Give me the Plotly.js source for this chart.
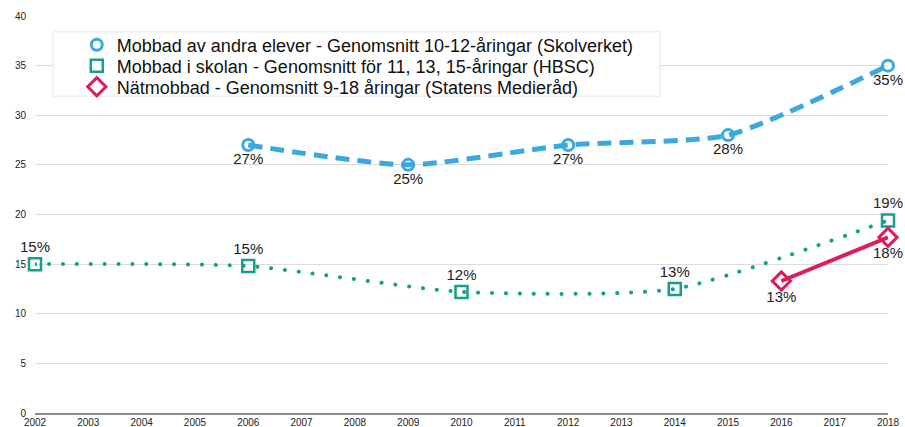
<!DOCTYPE html>
<html><head><meta charset="utf-8">
<script src="https://cdn.plot.ly/plotly-3.0.1.min.js"></script>
<style>
html,body{margin:0;padding:0;background:#fff}
#chart .scatterlayer .trace:nth-child(2) .js-line{stroke-linecap:round !important}
</style>
</head><body>
<div id="chart" style="width:905px;height:427px"></div>
<script>
const yearTicks = [2002,2003,2004,2005,2006,2007,2008,2009,2010,2011,2012,2013,2014,2015,2016,2017,2018];
const skolverketYears = [2006, 2009, 2012, 2015, 2018];
const skolverketValues = [27, 25, 27, 28, 35];
const hbscYears = [2002, 2006, 2010, 2014, 2018];
const hbscValues = [15, 14.8, 12.2, 12.5, 19.4];
const medieradYears = [2016, 2018];
const medieradValues = [13.3, 17.7];
const seriesNames = [
  'Mobbad av andra elever - Genomsnitt 10-12-åringar (Skolverket)',
  'Mobbad i skolan - Genomsnitt för 11, 13, 15-åringar (HBSC)',
  'Nätmobbad - Genomsnitt 9-18 åringar (Statens Medieråd)'
];
const colors = ['#3ba9e0', '#14a08a', '#dc1d5c'];
const labelFont = {family:'Liberation Sans, Arial, sans-serif', size:15, color:'#222'};
const markers = [
  {symbol:'circle-open', size:11, color:colors[0], line:{width:3, color:colors[0]}},
  {symbol:'square-open', size:12, color:colors[1], line:{width:2.5, color:colors[1]}},
  {symbol:'diamond-open', size:14, color:colors[2], line:{width:3, color:colors[2]}}
];
const traces = [
  {x: skolverketYears, y: skolverketValues, name: seriesNames[0], type:'scatter', mode:'lines+markers+text', showlegend:false,
   line:{color:colors[0], width:5, dash:'14px,8px', shape:'spline', smoothing:0.6},
   marker:markers[0], texttemplate:'%{y:.0f}%', textposition:'bottom center', textfont:labelFont, cliponaxis:false},
  {x: hbscYears, y: hbscValues, name: seriesNames[1], type:'scatter', mode:'lines+markers+text', showlegend:false,
   line:{color:colors[1], width:4, dash:'0.1px,13.8px', shape:'spline', smoothing:0.6},
   marker:markers[1], texttemplate:'%{y:.0f}%', textposition:'top center', textfont:labelFont, cliponaxis:false},
  {x: medieradYears, y: medieradValues, name: seriesNames[2], type:'scatter', mode:'lines+markers+text', showlegend:false,
   line:{color:colors[2], width:4},
   marker:markers[2], texttemplate:'%{y:.0f}%', textposition:'bottom center', textfont:labelFont, cliponaxis:false},
  {x:[null], y:[null], name: seriesNames[0], type:'scatter', mode:'markers', marker:markers[0], legend:'legend', showlegend:true},
  {x:[null], y:[null], name: seriesNames[1], type:'scatter', mode:'markers', marker:markers[1], legend:'legend2', showlegend:true},
  {x:[null], y:[null], name: seriesNames[2], type:'scatter', mode:'markers', marker:markers[2], legend:'legend3', showlegend:true}
];
const legendBase = {xanchor:'left', yanchor:'middle', bgcolor:'rgba(0,0,0,0)', borderwidth:0,
  font:{family:'Liberation Sans, Arial, sans-serif', size:18, color:'#111'}, itemwidth:30};
const layout = {
  width:905, height:427,
  margin:{l:35, r:17, t:16, b:14},
  paper_bgcolor:'#fff', plot_bgcolor:'#fff',
  font:{family:'Liberation Sans, Arial, sans-serif', color:'#222'},
  showlegend:true,
  legend: Object.assign({x:0.049, y:0.927}, legendBase),
  legend2: Object.assign({x:0.049, y:0.874}, legendBase),
  legend3: Object.assign({x:0.049, y:0.821}, legendBase),
  shapes:[{type:'rect', xref:'paper', yref:'paper', x0:0.0211, x1:0.7327, y0:0.798, y1:0.960,
    fillcolor:'#fff', line:{color:'#e6e6e6', width:1}, layer:'above'}],
  xaxis:{range:[2002,2018], tickvals:yearTicks, ticktext:yearTicks.map(String), showgrid:false, zeroline:false,
    showline:true, linecolor:'#8a8a8a', linewidth:2, ticks:'', tickfont:{size:10, color:'#222'}, ticklabelstandoff:-1, fixedrange:true},
  yaxis:{range:[0,40], dtick:5, showgrid:true, gridcolor:'#dcdcdc', gridwidth:1, zeroline:false, showline:false,
    ticks:'', tickfont:{size:10, color:'#222'}, ticklabelstandoff:8}
};
Plotly.newPlot('chart', traces, layout, {displayModeBar:false, staticPlot:true});
</script>
</body></html>
